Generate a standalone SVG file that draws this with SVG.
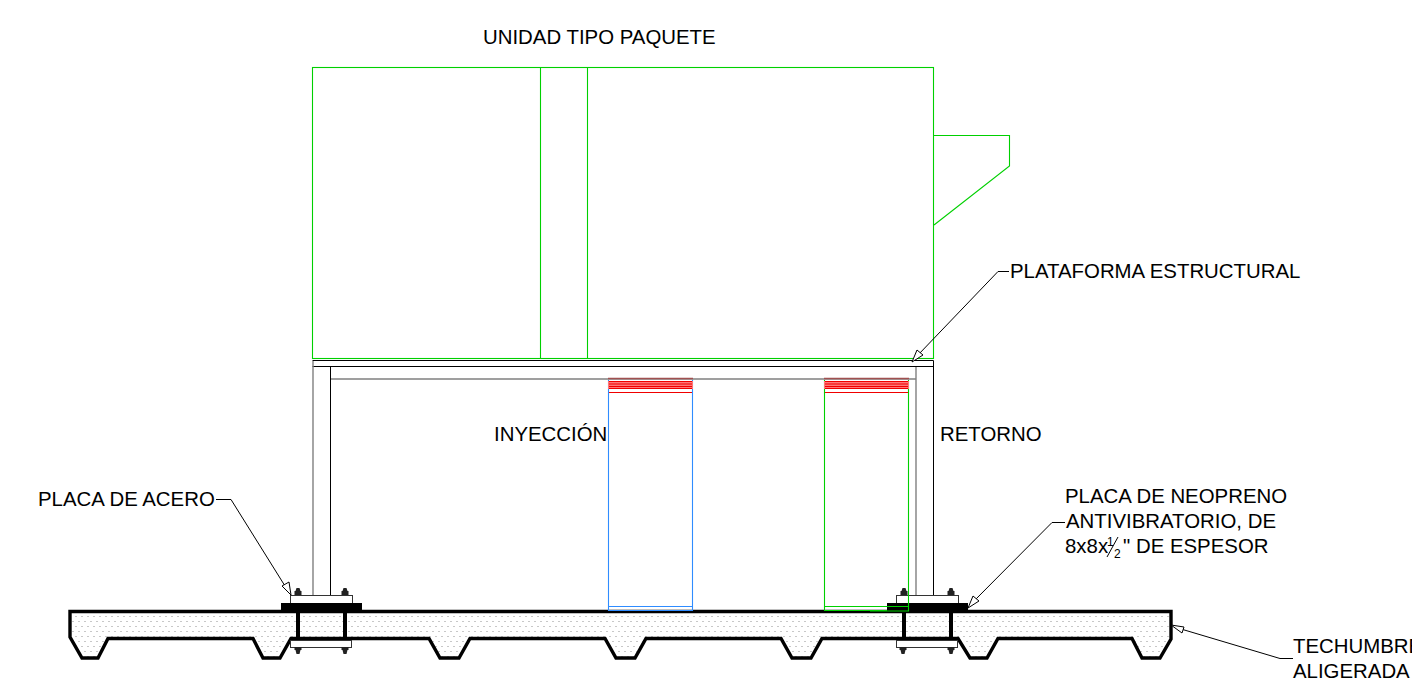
<svg xmlns="http://www.w3.org/2000/svg" width="1412" height="680" viewBox="0 0 1412 680">
<style>
text{font-family:"Liberation Sans",Arial,sans-serif;font-size:20.4px;fill:#000}
.f{font-size:12px}
.g{fill:none;stroke:#00d000;stroke-width:1.1}
.b{fill:none;stroke:#2f8cff;stroke-width:1.1}
.r{fill:none;stroke:#f00000;stroke-width:1}
.k{fill:none;stroke:#000;stroke-width:1}
.y{fill:none;stroke:#808080;stroke-width:1.4}
.t{fill:#fff;stroke:#333;stroke-width:1}
.lead{fill:none;stroke:#000;stroke-width:1}
.head{fill:#fff;stroke:#000;stroke-width:1}
</style>
<defs>
<pattern id="stip" width="12" height="10" patternUnits="userSpaceOnUse">
<rect x="0" y="1" width="2" height="1" fill="#c8c8c8"/><rect x="6" y="1" width="2" height="1" fill="#c8c8c8"/>
<rect x="3" y="6" width="2" height="1" fill="#c8c8c8"/><rect x="9" y="6" width="2" height="1" fill="#c8c8c8"/>
</pattern>
<g id="nutUp"><path d="M-1.500 -7H1.500L2.500 -4H3.500V0H-3.500V-4H-2.500Z" fill="#222"/></g>
<g id="nutDown"><path d="M-3.500 0H3.500V3H2.500L1.500 7H-1.500L-2.500 3H-3.500Z" fill="#222"/></g>
</defs>
<g id="techumbre">
<path fill="url(#stip)" stroke="#000" stroke-width="3.4" stroke-linejoin="miter" d="M70 611.500H1171V639L1160 658H1142L1132 638.500H998L987 658H970L958 638.500H822L811 658H792L781 638.500H646L635 658H616L605 638.500H470L459 658H440L429 638.500H291L280 658H263L253 638.500H108L98 658H82L70 637Z"/>
</g>
<g id="unidad">
<rect class="g" x="312.500" y="67.500" width="621" height="291"/>
<path class="g" d="M540.500 68V359M587.500 68V359M933.500 135.500H1009.500V166L934 225"/>
<text x="483" y="44">UNIDAD TIPO PAQUETE</text>
</g>
<g id="plataforma">
<path class="k" d="M312.500 360.500H933.500V595M312.500 366.500H933.500M330.500 367V595"/>
<path class="y" d="M313 361V595M331 379H916M916 367V595"/>
</g>
<g id="ducto-inyeccion">
<path class="b" d="M608.500 380V610.500H692.500V380M608.500 606.500H692.500"/>
<path d="M608 378.500H693" stroke="#a05050" stroke-width="1.500" fill="none"/>
<rect x="608" y="381" width="85" height="8" fill="#f77"/>
<path class="r" d="M609 381.500H692M609 384H692M609 386.500H692M609 388.500H692M609 392.500H692"/>
<text x="494" y="441">INYECCIÓN</text>
</g>
<g id="ducto-retorno">
<path class="g" d="M824.500 380V610.500H908.500V380M824.500 606.500H908.500"/>
<path d="M824 378.500H909" stroke="#a05050" stroke-width="1.500" fill="none"/>
<rect x="824" y="381" width="85" height="8" fill="#f77"/>
<path class="r" d="M825 381.500H908M825 384H908M825 386.500H908M825 388.500H908M825 392.500H908"/>
<text x="940" y="441">RETORNO</text>
</g>
<g id="apoyo-izq">
<rect class="t" x="290.500" y="595.500" width="62" height="8"/>
<rect x="281" y="603" width="81" height="8" fill="#000"/>
<rect x="296" y="611" width="4" height="28" fill="#000"/>
<rect x="343" y="611" width="4" height="28" fill="#000"/>
<rect class="t" x="290.500" y="640.500" width="61" height="7"/>
<use href="#nutUp" x="298" y="595"/><use href="#nutUp" x="345" y="595"/>
<use href="#nutDown" x="298" y="647"/><use href="#nutDown" x="345" y="647"/>
</g>
<g id="apoyo-der">
<rect class="t" x="896.500" y="595.500" width="62" height="8"/>
<rect x="887" y="603" width="81" height="8" fill="#000"/>
<rect x="902" y="611" width="4" height="28" fill="#000"/>
<rect x="949" y="611" width="4" height="28" fill="#000"/>
<rect class="t" x="896.500" y="640.500" width="61" height="7"/>
<use href="#nutUp" x="904" y="595"/><use href="#nutUp" x="951" y="595"/>
<use href="#nutDown" x="903" y="647"/><use href="#nutDown" x="951" y="647"/>
<path class="g" d="M870 606.500H908.500V611H870M908.500 595V611"/>
</g>
<g id="conectores">
<path class="lead" d="M1009 271.500H998L918 355"/>
<path class="head" d="M912 362L917 350L923 355Z"/>
<path class="lead" d="M216 499.500H231L285 586"/>
<path class="head" d="M291 595L282 586L289 582Z"/>
<path class="lead" d="M1065 522.500H1052L975 600"/>
<path class="head" d="M968 608L973 596L979 601Z"/>
<path class="lead" d="M1181 629L1280 658.500H1293"/>
<path class="head" d="M1171 625L1184 627L1182 633Z"/>
</g>
<g id="etiquetas">
<text x="1010" y="278">PLATAFORMA ESTRUCTURAL</text>
<text x="38" y="506">PLACA DE ACERO</text>
<text x="1065" y="503">PLACA DE NEOPRENO</text>
<text x="1066" y="528">ANTIVIBRATORIO, DE</text>
<text x="1065" y="553">8x8x</text>
<text class="f" x="1107" y="546">1</text>
<path d="M1107 557L1118 537" stroke="#000" stroke-width="1" fill="none"/>
<text class="f" x="1114" y="558">2</text>
<text x="1123" y="553">" DE ESPESOR</text>
<text x="1293" y="653">TECHUMBRE</text>
<text x="1293" y="678">ALIGERADA</text>
</g>
</svg>
